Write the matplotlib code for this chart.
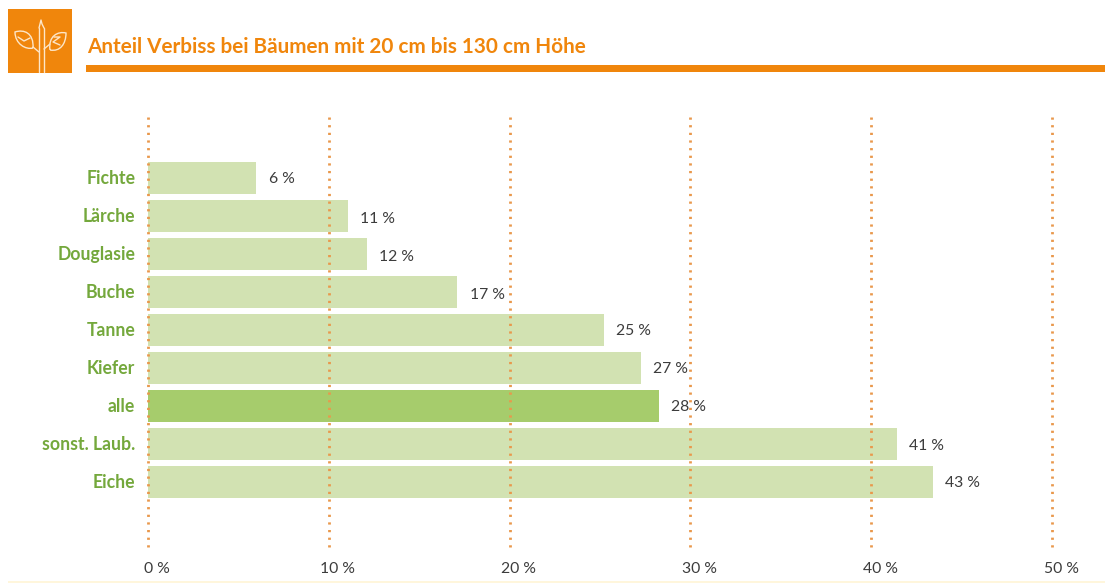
import matplotlib
matplotlib.use("Agg")
import matplotlib.pyplot as plt
from matplotlib.patches import Rectangle, PathPatch
from matplotlib.path import Path
from matplotlib.transforms import ScaledTranslation

plt.rcParams['font.family'] = ['Lato', 'DejaVu Sans']

categories = ['Fichte', 'Lärche', 'Douglasie', 'Buche', 'Tanne', 'Kiefer', 'alle', 'sonst. Laub.', 'Eiche']
bar_values = [6.0, 11.05, 12.1, 17.1, 25.2, 27.25, 28.25, 41.4, 43.4]
value_labels = ['6 %', '11 %', '12 %', '17 %', '25 %', '27 %', '28 %', '41 %', '43 %']
ticks = [0, 10, 20, 30, 40, 50]
tick_labels = ['0 %', '10 %', '20 %', '30 %', '40 %', '50 %']
title = 'Anteil Verbiss bei Bäumen mit 20 cm bis 130 cm Höhe'

W, H = 1105, 583
ORANGE = '#f0860c'
GREEN_TEXT = '#74a83c'
BAR = '#d2e2b2'
BAR_HI = '#a6cc6c'
DOT = '#e9984c'
DARK = '#3c3c3c'

fig = plt.figure(figsize=(W / 100, H / 100), dpi=100, facecolor='white')

# background layer in pixel coordinates for the header
bg = fig.add_axes([0, 0, 1, 1])
bg.set_xlim(0, W)
bg.set_ylim(H, 0)
bg.axis('off')
bg.add_patch(Rectangle((8, 9), 64, 64, color=ORANGE, lw=0))
bg.add_patch(Rectangle((86, 65), W - 86, 7, color=ORANGE, lw=0))
bg.add_patch(Rectangle((8, 581), W - 8, 2, color='#fff6dc', lw=0))
bg.text(87, 47, title, color=ORANGE, fontsize=14.95, fontweight='bold', va='center', ha='left')

# logo, a small tree with two leaves
LOGO = '#fde6c8'
logo = dict(color=LOGO, lw=1.0, solid_capstyle='round')
bg.plot([39, 39], [28, 72], **logo)
bg.plot([44, 44], [28, 72], **logo)
bg.plot([39, 41, 42, 44], [28, 20, 24, 28], **logo)
bg.plot([39, 33], [52, 47], **logo)
bg.plot([44, 50], [49, 44], **logo)
curve = [Path.MOVETO, Path.CURVE4, Path.CURVE4, Path.CURVE4, Path.CURVE4, Path.CURVE4, Path.CURVE4]
for verts in ([(33, 48), (26, 50), (15, 44), (15, 32), (24, 29), (34, 33), (33, 48)],
              [(50, 50), (60, 52), (66, 44), (66, 33), (58, 31), (48, 36), (50, 50)]):
    bg.add_patch(PathPatch(Path(verts, curve), fc='none', ec=LOGO, lw=1.0))
bg.plot([18, 24, 30], [37, 41, 38], **logo)
bg.plot([54, 60, 53, 60], [37, 37, 42, 45], **logo)

# axes: x 0..50 maps to 148..1052 px, y rows 38 px apart
left, right, top, bottom = 148, 1052, 117, 547
ax = fig.add_axes([left / W, 1 - bottom / H, (right - left) / W, (bottom - top) / H])
ax.patch.set_alpha(0)
ax.set_xlim(0, 50)
ax.set_ylim((bottom - 178) / 38, (top - 178) / 38)

colors = [BAR_HI if c == 'alle' else BAR for c in categories]
ypos = list(range(len(categories)))
ax.barh(ypos, bar_values, height=32 / 38, color=colors, zorder=1)

for t in ticks:
    ax.axvline(t, color=DOT, lw=2.0, linestyle=(0, (0.8, 1.95)), zorder=2, clip_on=False)

# the value labels do not sit quite evenly in the original
label_shift = [1, 3, 3, 3, 1, 1, 1, 2, 1]
for y, v, lab, dy in zip(ypos, bar_values, value_labels, label_shift):
    ax.annotate(lab, (v, y), xytext=(9, -dy * 0.72), textcoords='offset points', color=DARK,
                fontsize=11.3, va='center', ha='left', zorder=3)

for y, c in zip(ypos, categories):
    ax.text(-0.7, y, c, color=GREEN_TEXT, fontsize=12.7, fontweight='bold', va='center', ha='right')

ax.set_xticks(ticks)
ax.set_xticklabels(tick_labels, color=DARK, fontsize=11.3)
ax.set_yticks([])
ax.tick_params(axis='x', length=0, pad=11)
shift = ScaledTranslation(9 / 100, 0, fig.dpi_scale_trans)
for lab in ax.get_xticklabels():
    lab.set_transform(lab.get_transform() + shift)
for s in ax.spines.values():
    s.set_visible(False)

fig.savefig('out.png', dpi=100)
